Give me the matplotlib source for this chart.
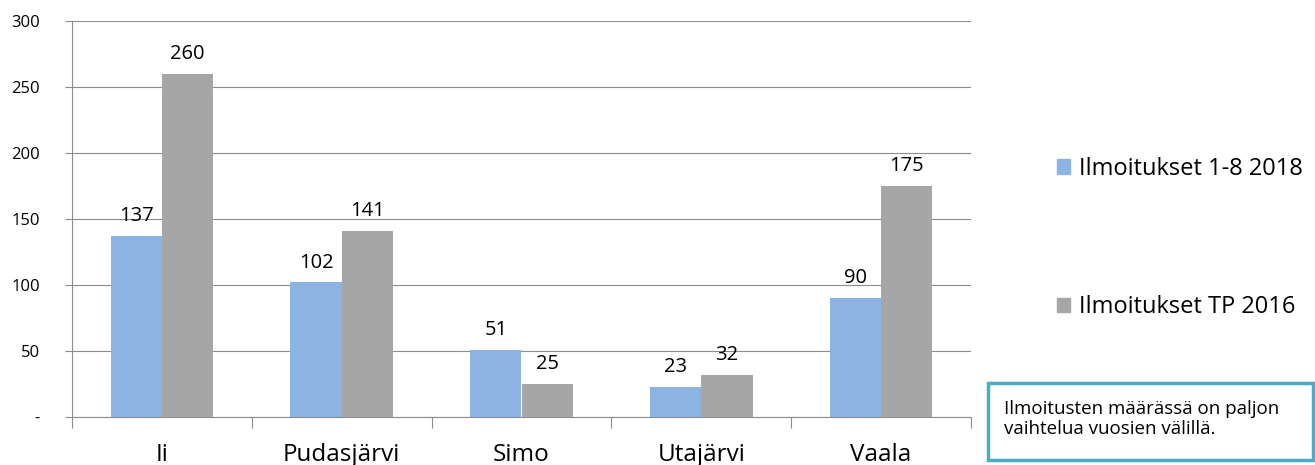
import numpy as np
import matplotlib.pyplot as plt
from matplotlib.patches import Rectangle, Patch

kunnat = ["Ii", "Pudasjärvi", "Simo", "Utajärvi", "Vaala"]
ilm_2018 = [137, 102, 51, 23, 90]
ilm_2016 = [260, 141, 25, 32, 175]
sarjat = ["Ilmoitukset 1-8 2018", "Ilmoitukset TP 2016"]
y_ticks = [0, 50, 100, 150, 200, 250, 300]
y_labels = ["-", "50", "100", "150", "200", "250", "300"]
huomio = "Ilmoitusten määrässä on paljon\nvaihtelua vuosien välillä."

plt.rcParams['font.family'] = ['Open Sans', 'DejaVu Sans']

c_blue = '#8DB3E2'
c_grey = '#A6A6A6'
c_line = '#8C8C8C'

fig = plt.figure(figsize=(13.15, 4.65), dpi=100)
ax = fig.add_axes([72 / 1315, 48 / 465, 899 / 1315, 396 / 465])

x = np.arange(len(kunnat))
w = 0.285
b1 = ax.bar(x - w / 2, ilm_2018, w, color=c_blue, zorder=3)
b2 = ax.bar(x + w / 2, ilm_2016, w, color=c_grey, zorder=3)
for bars in (b1, b2):
    for r in bars:
        ax.annotate(str(int(r.get_height())), (r.get_x() + r.get_width() / 2, r.get_height()),
                    xytext=(0, 7), textcoords='offset points', ha='center', va='bottom',
                    fontsize=14.5)

ax.set_xlim(-0.5, len(kunnat) - 0.5)
ax.set_ylim(0, 300)
ax.set_yticks(y_ticks)
ax.set_yticklabels(y_labels, fontsize=12)
ax.yaxis.grid(True, color=c_line, linewidth=0.8, zorder=0)

# category labels in the middle, tick marks at the boundaries
ax.set_xticks(np.arange(-0.5, len(kunnat), 1.0))
ax.set_xticklabels([])
ax.set_xticks(x, minor=True)
ax.set_xticklabels(kunnat, minor=True, fontsize=17.5)
ax.tick_params(axis='x', which='minor', length=0, pad=19)
ax.tick_params(axis='x', which='major', length=8, color=c_line, width=0.8)
ax.tick_params(axis='y', length=5, color=c_line, width=0.8, pad=18)

for s in ('top', 'right'):
    ax.spines[s].set_visible(False)
for s in ('left', 'bottom'):
    ax.spines[s].set_color(c_line)
    ax.spines[s].set_linewidth(0.8)

handles = [Patch(color=c_blue), Patch(color=c_grey)]
fig.legend(handles, sarjat, loc='center left', bbox_to_anchor=(1057 / 1315, 1 - 238 / 465),
           frameon=False, fontsize=17, labelspacing=4.85, handlelength=0.55, handleheight=0.55,
           handletextpad=0.4, borderpad=0, borderaxespad=0)

fig.patches.append(Rectangle((988 / 1315, 1 - 460 / 465), 325 / 1315, 77 / 465,
                             transform=fig.transFigure, facecolor='white',
                             edgecolor='#4BACC6', linewidth=2.5))
fig.text(1004 / 1315, 1 - 419 / 465, huomio, fontsize=13.5, va='center', ha='left',
         linespacing=1.15)

fig.savefig("out.png", dpi=100)
